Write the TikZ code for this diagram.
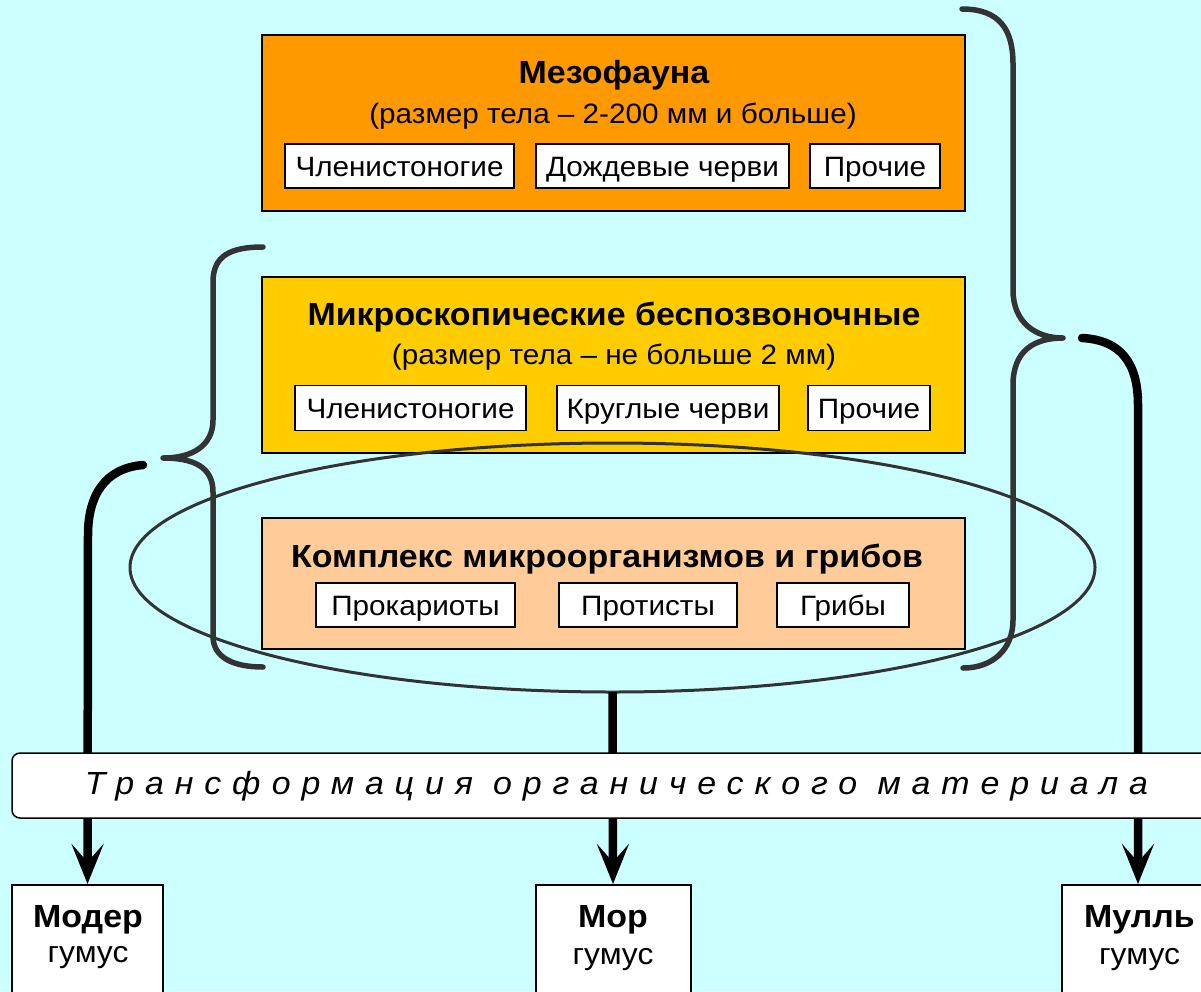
\documentclass[tikz,border=0pt]{standalone}
\usepackage{fontspec}
\setmainfont{Liberation Sans}[FakeStretch=1.06]
\usetikzlibrary{arrows.meta,shapes.geometric}
\definecolor{bgc}{HTML}{CCFFFF}
\definecolor{mesoc}{HTML}{FF9900}
\definecolor{microc}{HTML}{FFCC00}
\definecolor{cplxc}{HTML}{FFCC99}
\definecolor{bracec}{HTML}{333333}
\begin{document}
\begin{tikzpicture}[x=1pt,y=-1pt,
  bigbox/.style={draw=black, line width=2pt, minimum width=703pt, inner sep=0pt},
  subbox/.style={draw=black, line width=1.5pt, fill=white, inner sep=0pt, text height=20pt, text depth=0pt, font=\fontsize{28}{31}\selectfont},
  titletext/.style={anchor=base, inner sep=0pt, font=\fontsize{32}{35}\selectfont\bfseries},
  subtext/.style={anchor=base, inner sep=0pt, font=\fontsize{28}{31}\selectfont},
  bracepath/.style={draw=bracec, line width=5.5pt, line cap=round, line join=round},
  thickarrow/.style={line width=8.5pt, -{Stealth[length=40pt,width=32pt,inset=18pt]}},
  humusbox/.style={draw=black, line width=2pt, fill=white, inner sep=0pt, minimum height=120pt},
  humusname/.style={anchor=base, inner sep=0pt, font=\fontsize{32}{36}\selectfont\bfseries},
  humusword/.style={anchor=base, inner sep=0pt, font=\fontsize{30}{34}\selectfont}
]
\useasboundingbox (0,0) rectangle (1201,991);
\clip (0,0) rectangle (1201,991);
\fill[bgc] (0,0) rectangle (1201,991);

% Mesofauna
\node[bigbox, fill=mesoc, minimum height=176pt] (meso) at (613.5,123) {};
\node[titletext] (mesot) at (614,83) {Мезофауна};
\node[subtext] (mesos) at (613,123) {(размер тела – 2-200 мм и больше)};
\node[subbox, minimum width=229pt, minimum height=44pt] (m1) at (399.5,166) {Членистоногие};
\node[subbox, minimum width=253pt, minimum height=44pt] (m2) at (662.5,166) {Дождевые черви};
\node[subbox, minimum width=130pt, minimum height=44pt] (m3) at (875,166) {Прочие};

% Microscopic invertebrates
\node[bigbox, fill=microc, minimum height=176pt] (micro) at (613.5,364.5) {};
\node[titletext] (microt) at (614,325) {Микроскопические беспозвоночные};
\node[subtext] (micros) at (614,364) {(размер тела – не больше 2 мм)};
\node[subbox, minimum width=231pt, minimum height=45pt] (k1) at (410.5,408) {Членистоногие};
\node[subbox, minimum width=222pt, minimum height=45pt] (k2) at (668,408) {Круглые черви};
\node[subbox, minimum width=122pt, minimum height=45pt] (k3) at (869,408) {Прочие};

% Complex of microorganisms
\node[bigbox, fill=cplxc, minimum height=131pt] (cplx) at (613.5,583.5) {};
\node[titletext] (cplxt) at (607,567) {Комплекс микроорганизмов и грибов};
\node[subbox, minimum width=199pt, minimum height=44pt] (c1) at (415.5,605) {Прокариоты};
\node[subbox, minimum width=178pt, minimum height=44pt] (c2) at (648,605) {Протисты};
\node[subbox, minimum width=132pt, minimum height=44pt] (c3) at (843,605) {Грибы};

% Ellipse
\node[draw=bracec, line width=3pt, ellipse, minimum width=965pt, minimum height=249pt, inner sep=0pt, outer sep=0pt] (ell) at (612.5,567.5) {};

% Braces
\draw[bracepath] (962,9) .. controls (1000,9) and (1013,30) .. (1013,64) -- (1013,290)
  .. controls (1013,322) and (1035,338) .. (1063,338)
  .. controls (1035,338) and (1013,350) .. (1013,385) -- (1013,620)
  .. controls (1013,650) and (992,668) .. (963,668);
\draw[bracepath] (263,247) .. controls (230,247) and (213,256) .. (213,282) -- (213,420)
  .. controls (213,446) and (192,458) .. (163,458)
  .. controls (192,458) and (213,466) .. (213,492) -- (213,636)
  .. controls (213,658) and (234,667) .. (263,667);

% Bottom boxes
\node[humusbox, minimum width=151pt, anchor=north] (moder) at (87.5,884) {};
\node[humusbox, minimum width=155pt, anchor=north] (mor) at (613,884) {};
\node[humusbox, minimum width=152pt, anchor=north] (mull) at (1138,884) {};
\node[humusname] (modert) at (88,927) {Модер};
\node[humusword] (moderh) at (88,962) {гумус};
\node[humusname] (mort) at (613,927) {Мор};
\node[humusword] (morh) at (613,964) {гумус};
\node[humusname] (mullt) at (1139.5,927) {Мулль};
\node[humusword] (mullh) at (1139.5,964) {гумус};

% Arrows
\coordinate (lstart) at (143,465);
\coordinate (rstart) at (1082,338);
\draw[thickarrow, line cap=round] (lstart) .. controls (106,468) and (88,494) .. (88,535) -- (moder.north);
\draw[thickarrow] (ell.south) -- (mor.north);
\draw[thickarrow, line cap=round] (rstart) .. controls (1120,340) and (1138,362) .. (1138,405) -- (mull.north);

% Transformation band
\node[draw=black, line width=1.5pt, fill=white, rounded corners=8pt, minimum width=1212pt, minimum height=65pt, inner sep=0pt] (band) at (618,785.5) {};
\node[anchor=base, inner sep=0pt, font=\fontsize{32}{35}\selectfont\itshape\addfontfeature{LetterSpace=34}] (bandt) at (616.5,794) {Трансформация органического материала};
\end{tikzpicture}
\end{document}
